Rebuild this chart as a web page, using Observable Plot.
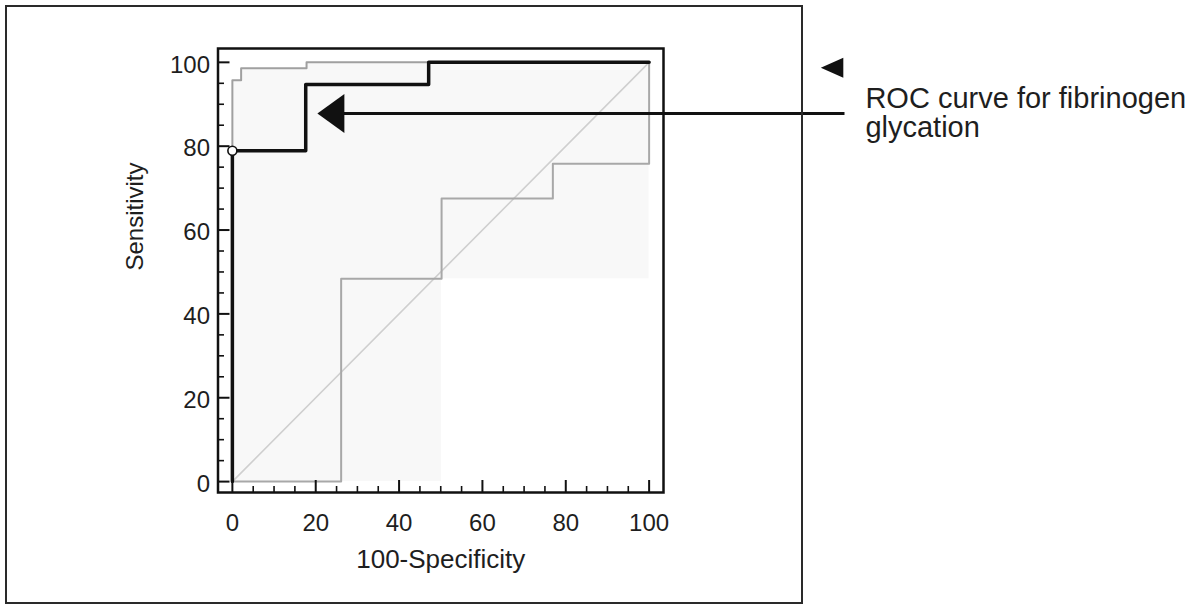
<!DOCTYPE html>
<html>
<head>
<meta charset="utf-8">
<script src="https://cdn.jsdelivr.net/npm/d3@7"></script>
<script src="https://cdn.jsdelivr.net/npm/@observablehq/plot@0.6"></script>
<style>
  html, body { margin: 0; padding: 0; background: #fff; }
  #wrap { position: relative; width: 1202px; height: 605px; overflow: hidden; }
  #wrap svg { position: absolute; left: 0; top: 0; }
  #box { position: absolute; left: 5px; top: 5px; width: 794px; height: 595px;
         border: 2px solid #2a2a2a; pointer-events: none; }
</style>
</head>
<body>
<div id="wrap"><div id="box"></div></div>
<script>
// ROC curve (100-Specificity, Sensitivity) operating points
const rocX = [0, 0, 17.6, 47.1, 100];
const rocY = [0, 78.9, 94.7, 100, 100];
// Upper 95% confidence bound
const upperX = [0, 0, 2.1, 17.8, 100];
const upperY = [78.9, 95.7, 98.6, 100, 100];
// Lower 95% confidence bound
const lowerX = [0, 26.1, 50.2, 76.9, 100, 100];
const lowerY = [0, 48.4, 67.5, 75.8, 75.8, 100];
// Shaded confidence region
const shadeX = [0, 2.1, 17.8, 50.2, 100];
const shadeLow = [0, 0, 0, 48.4, 48.4];
const shadeHigh = [95.7, 98.6, 100, 100, 100];
// Criterion point
const critX = [0];
const critY = [78.9];
// Reference diagonal
const diagX = [0, 100];
const diagY = [0, 100];
// Tick labels
const xTicks = [0, 20, 40, 60, 80, 100];
const yTicks = [0, 20, 40, 60, 80, 100];
const minorTicks = [5, 10, 15, 25, 30, 35, 45, 50, 55, 65, 70, 75, 85, 90, 95];
// Annotation
const annotText = ["ROC curve for fibrinogen\nglycation"];
const annotArrow = [{x1: 26.7, x2: 147, y: 87.8}];
const bigHead = [{x: 20.4, y: 87.8}];
const smallHead = [{x: 141.2, y: 98.7}];
const annotLabel = [{x: 151.9, y: 94.1, text: annotText[0]}];

const W = 1202, H = 605;
const mL = 217.5, mR = 1202 - 663, mT = 48, mB = 605 - 492;
const plotW = W - mL - mR, plotH = H - mT - mB;

const roc = rocX.map((x, i) => ({x, y: rocY[i]}));
const upper = upperX.map((x, i) => ({x, y: upperY[i]}));
const lower = lowerX.map((x, i) => ({x, y: lowerY[i]}));
const shade = shadeX.map((x, i) => ({x, y1: shadeLow[i], y2: shadeHigh[i]}));
const diag = diagX.map((x, i) => ({x, y: diagY[i]}));
const crit = critX.map((x, i) => ({x, y: critY[i]}));

// custom left-pointing filled triangles, anchored at the tip
const triBig = { draw(ctx) { ctx.moveTo(0, 0); ctx.lineTo(27, -19.5); ctx.lineTo(27, 19.5); ctx.closePath(); } };
const triSmall = { draw(ctx) { ctx.moveTo(0, 0); ctx.lineTo(22.5, -10); ctx.lineTo(22.5, 10); ctx.closePath(); } };

const chart = Plot.plot({
  width: W, height: H,
  marginLeft: mL, marginRight: mR, marginTop: mT, marginBottom: mB,
  x: {domain: [-3.45, 103.45], axis: null},
  y: {domain: [-2.6, 103.3], axis: null},
  style: {fontFamily: "'Liberation Sans', Arial, sans-serif", fontSize: "24px", color: "#1e1e1e", background: "transparent", overflow: "visible"},
  marks: [
    Plot.areaY(shade, {x: "x", y1: "y1", y2: "y2", curve: "step-after", fill: "#f8f8f8"}),
    Plot.line(diag, {x: "x", y: "y", stroke: "#cfcfcf", strokeWidth: 1.6}),
    Plot.line(lower, {x: "x", y: "y", curve: "step-after", stroke: "#a8a8a8", strokeWidth: 2}),
    Plot.line(upper, {x: "x", y: "y", curve: "step-after", stroke: "#a0a0a0", strokeWidth: 2}),
    Plot.line(roc, {x: "x", y: "y", curve: "step-after", stroke: "#111", strokeWidth: 3.5}),
    Plot.dot(crit, {x: "x", y: "y", r: 4.5, fill: "#fff", stroke: "#111", strokeWidth: 1.6}),
    // ticks (inward)
    Plot.ruleX(xTicks, {x: d => d, insetTop: plotH - 12, stroke: "#111", strokeWidth: 2}),
    Plot.ruleX(minorTicks, {x: d => d, insetTop: plotH - 6, stroke: "#111", strokeWidth: 1.6}),
    Plot.ruleY(yTicks, {y: d => d, insetRight: plotW - 12, stroke: "#111", strokeWidth: 2}),
    Plot.ruleY(minorTicks, {y: d => d, insetRight: plotW - 6.5, stroke: "#111", strokeWidth: 1.6}),
    Plot.frame({stroke: "#111", strokeWidth: 2.5}),
    // tick labels
    Plot.text(xTicks, {x: d => d, text: d => String(d), frameAnchor: "bottom", dy: 21, lineAnchor: "top", fontSize: 24, fill: "#1e1e1e"}),
    Plot.text(yTicks, {y: d => d, text: d => String(d), frameAnchor: "left", dx: -8, dy: 2.5, textAnchor: "end", fontSize: 24, fill: "#1e1e1e"}),
    // axis titles
    Plot.text(["100-Specificity"], {frameAnchor: "bottom", dy: 75, fontSize: 26, fill: "#1e1e1e"}),
    Plot.text(["Sensitivity"], {frameAnchor: "left", dx: -83, rotate: -90, fontSize: 24, fill: "#1e1e1e"}),
    // annotation
    Plot.ruleY(annotArrow, {y: "y", x1: "x1", x2: "x2", stroke: "#111", strokeWidth: 3}),
    Plot.dot(bigHead, {x: "x", y: "y", r: 10, symbol: triBig, fill: "#111", stroke: null}),
    Plot.dot(smallHead, {x: "x", y: "y", r: 10, symbol: triSmall, fill: "#111", stroke: null}),
    Plot.text(annotLabel, {x: "x", y: "y", text: "text", textAnchor: "start", lineAnchor: "top", lineHeight: 1.0, fontSize: 29, fill: "#1e1e1e"})
  ]
});
document.getElementById("wrap").prepend(chart);
</script>
</body>
</html>
